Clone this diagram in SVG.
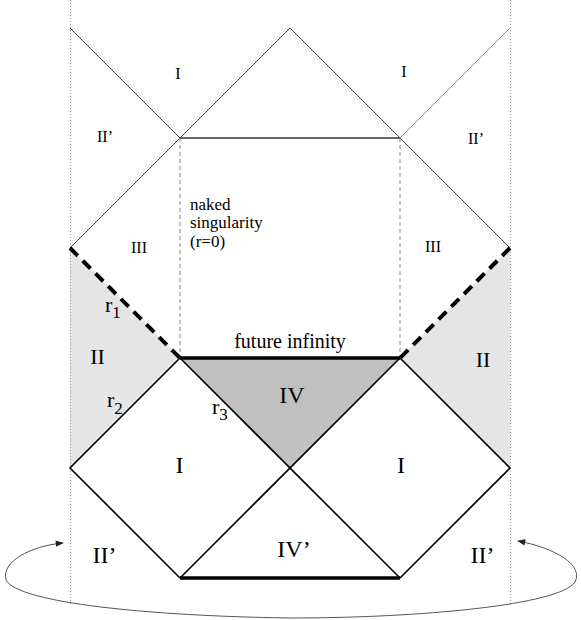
<svg xmlns="http://www.w3.org/2000/svg" width="581" height="620" viewBox="0 0 581 620">
<style>
text{font-family:"Liberation Serif","Times New Roman",serif;fill:#000}
.sm{font-size:16px}
.md{font-size:17px}
.lg{font-size:24px}
.thin{stroke:#444;stroke-width:1;fill:none}
.thinl{stroke:#888;stroke-width:1;fill:none}
.solid{stroke:#000;stroke-width:1.6;fill:none}
.thick{stroke:#000;stroke-width:3.5;fill:none}
.tdash{stroke:#000;stroke-width:4;stroke-dasharray:11 7;fill:none}
.vdash{stroke:#888;stroke-width:1;stroke-dasharray:4 3;fill:none}
.dot{stroke:#999;stroke-width:1;stroke-dasharray:1 2;fill:none}
</style>
<defs>
<marker id="ah" viewBox="0 0 10 10" refX="9" refY="5" markerWidth="10" markerHeight="8" markerUnits="userSpaceOnUse" orient="auto-start-reverse">
<path d="M0,1 L10,5 L0,9 Z" fill="#222"/>
</marker>
</defs>
<rect width="581" height="620" fill="#fff"/>
<g id="regions">
<polygon id="regionII-left" points="70,248 180,358 70,468" fill="#e5e5e5"/>
<polygon id="regionII-right" points="510,248 400,358 510,468" fill="#e5e5e5"/>
<polygon id="regionIV" points="180,358 400,358 290,468" fill="#c0c0c0"/>
</g>
<g id="connectors">
<line class="dot" x1="70.5" y1="0" x2="70.5" y2="604"/>
<line class="dot" x1="510.5" y1="0" x2="510.5" y2="604"/>
<polyline class="thin" points="70,28 180,138 290,28 400,138"/>
<line class="thinl" x1="400" y1="138" x2="510" y2="28"/>
<line stroke="#333" stroke-width="1.3" x1="180" y1="138" x2="400" y2="138"/>
<line class="thin" x1="180" y1="138" x2="70" y2="248"/>
<line class="thin" x1="400" y1="138" x2="510" y2="248"/>
<line class="vdash" x1="180" y1="138" x2="180" y2="358"/>
<line class="vdash" x1="400" y1="138" x2="400" y2="358"/>
<line class="tdash" x1="70" y1="248" x2="180" y2="358"/>
<line class="tdash" x1="510" y1="248" x2="400" y2="358"/>
<polyline class="solid" points="180,358 70,468 180,578"/>
<polyline class="solid" points="400,358 510,468 400,578"/>
<line class="solid" x1="180" y1="358" x2="400" y2="578"/>
<line class="solid" x1="400" y1="358" x2="180" y2="578"/>
<line class="thick" x1="180" y1="358" x2="400" y2="358"/>
<line class="thick" x1="180" y1="578" x2="400" y2="578"/>
<path d="M63,543 C30,546 1,562 6,580 C18,603 150,616 290,618 C420,618 560,605 575,582 C584,565 555,548 518,541" stroke="#555" stroke-width="1" fill="none" marker-start="url(#ah)" marker-end="url(#ah)"/>
</g>
<g id="labels-top">
<text class="sm" x="178" y="79" text-anchor="middle">I</text>
<text class="sm" x="404" y="77" text-anchor="middle">I</text>
<text class="sm" x="105" y="142" text-anchor="middle">II’</text>
<text class="sm" x="476" y="144" text-anchor="middle">II’</text>
<text class="sm" x="139" y="253" text-anchor="middle">III</text>
<text class="sm" x="433" y="252" text-anchor="middle">III</text>
</g>
<g id="naked-singularity">
<text class="md" x="190" y="210">naked</text>
<text class="md" x="190" y="228">singularity</text>
<text class="md" x="190" y="247">(r=0)</text>
</g>
<g id="labels-bottom">
<text x="290" y="348" text-anchor="middle" style="font-size:20px">future infinity</text>
<text class="lg" x="292" y="403" text-anchor="middle">IV</text>
<text class="lg" x="179.5" y="473" text-anchor="middle">I</text>
<text class="lg" x="401" y="473" text-anchor="middle">I</text>
<text x="97.5" y="364" text-anchor="middle" style="font-size:22px">II</text>
<text x="483" y="367" text-anchor="middle" style="font-size:22px">II</text>
<text class="lg" x="294" y="557" text-anchor="middle">IV’</text>
<text class="lg" x="104.5" y="563" text-anchor="middle">II’</text>
<text class="lg" x="482.5" y="563" text-anchor="middle">II’</text>
<text x="105" y="312" style="font-size:22px">r<tspan dy="6" style="font-size:17px">1</tspan></text>
<text x="107" y="407" style="font-size:22px">r<tspan dy="7" style="font-size:17px">2</tspan></text>
<text x="212" y="414" style="font-size:22px">r<tspan dy="6" style="font-size:17px">3</tspan></text>
</g>
</svg>
